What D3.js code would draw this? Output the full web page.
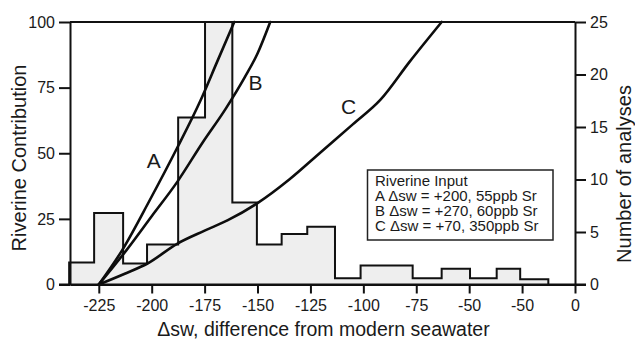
<!DOCTYPE html>
<html>
<head>
<meta charset="utf-8">
<script src="https://cdn.jsdelivr.net/npm/d3@7"></script>
<style>
  html, body { margin: 0; padding: 0; background: #fff; }
  svg { display: block; }
  text { font-family: "Liberation Sans", Arial, Helvetica, sans-serif; fill: #1a1a1a; }
</style>
</head>
<body>
<svg id="chart" width="635" height="339"></svg>
<script>
// ---------- data ----------
const xTickValues = [-225, -200, -175, -150, -125, -100, -75, -50, -25, 0];
const xTickLabels = ["-225", "-200", "-175", "-150", "-125", "-100", "-75", "-50", "-50", "0"];
const leftTicks = [0, 25, 50, 75, 100];
const rightTicks = [0, 5, 10, 15, 20, 25];

// histogram bin edges (Δsw) and counts (Number of analyses)
const binEdges = [-239, -227.2, -213.5, -202.2, -187.5, -174.8, -161.9, -150.3, -138.6, -126.5, -113.4, -101.3, -89, -76.7, -63.0, -49.6, -37.0, -25.9, -12.6];
const binCounts = [2.1, 6.8, 2.0, 3.8, 15.9, 25, 7.8, 3.8, 4.8, 5.5, 0.6, 1.8, 1.8, 0.6, 1.5, 0.6, 1.5, 0.5];

// model curves: riverine contribution vs Δsw
const curveA = [[-225, 0], [-214, 13], [-201, 32], [-188, 52], [-177, 70], [-169, 85], [-161, 100]];
const curveB = [[-225, 0], [-212, 13], [-200, 26], [-188, 39], [-176, 54], [-165, 67], [-156, 79], [-150, 88], [-144, 100]];
const curveC = [[-225, 0], [-213, 4], [-202, 8], [-188, 15.5], [-175, 20.5], [-164, 24.5], [-150, 31], [-135, 40], [-120, 50.5], [-105, 61], [-92, 70.3], [-78, 85], [-63, 100]];
const curveNames = ["A", "B", "C"];

const legendTitle = "Riverine Input";
const legendLines = ["A \u0394sw = +200, 55ppb Sr", "B \u0394sw = +270, 60ppb Sr", "C \u0394sw = +70, 350ppb Sr"];

const xTitle = "\u0394sw, difference from modern seawater";
const yLeftTitle = "Riverine Contribution";
const yRightTitle = "Number of analyses";

// ---------- layout ----------
const svg = d3.select("#chart");
const L = 70, R = 575, T = 22, B = 284.5;

const x = d3.scaleLinear().domain([-238.6, 0]).range([L, R]);
const yL = d3.scaleLinear().domain([0, 100]).range([B, T]);
const yR = d3.scaleLinear().domain([0, 25]).range([B, T]);

// histogram outline built from bins
const histPts = [[binEdges[0], 0]];
binCounts.forEach((c, i) => { histPts.push([binEdges[i], c]); histPts.push([binEdges[i + 1], c]); });
histPts.push([binEdges[binEdges.length - 1], 0]);

const histLine = d3.line().x(d => x(d[0])).y(d => yR(d[1]));
svg.append("path")
  .attr("d", histLine(histPts))
  .attr("fill", "#eeeeee")
  .attr("stroke", "#111")
  .attr("stroke-width", 2)
  .attr("stroke-linejoin", "miter");

// curves
const cLine = d3.line().x(d => x(d[0])).y(d => yL(d[1])).curve(d3.curveMonotoneX);
[curveA, curveB, curveC].forEach(c => {
  svg.append("path")
    .attr("d", cLine(c))
    .attr("fill", "none")
    .attr("stroke", "#0d0d0d")
    .attr("stroke-width", 2.6)
    .attr("stroke-linecap", "round");
});

// curve labels (annotation anchors in data units)
const labelAnchors = { A: [-199, 44.5], B: [-151, 74], C: [-107, 65] };
curveNames.forEach(n => {
  svg.append("text")
    .attr("x", x(labelAnchors[n][0]))
    .attr("y", yL(labelAnchors[n][1]))
    .attr("text-anchor", "middle")
    .attr("font-size", 21)
    .text(n);
});

// top border
svg.append("line").attr("x1", L).attr("x2", R).attr("y1", T).attr("y2", T)
  .attr("stroke", "#111").attr("stroke-width", 2);

// axes
const axStyle = g => {
  g.selectAll(".domain").attr("stroke", "#111").attr("stroke-width", 2);
  g.selectAll(".tick line").attr("stroke", "#111").attr("stroke-width", 2);
  g.selectAll(".tick text").attr("font-size", 16).attr("fill", "#1a1a1a")
    .style("font-family", '"Liberation Sans", Arial, sans-serif');
};

svg.append("g").attr("transform", `translate(0,${B})`)
  .call(d3.axisBottom(x).tickValues(xTickValues)
    .tickFormat((d, i) => xTickLabels[i]).tickSize(9).tickSizeOuter(0).tickPadding(6))
  .call(axStyle);

svg.append("g").attr("transform", `translate(${L},0)`)
  .call(d3.axisLeft(yL).tickValues(leftTicks).tickSize(11).tickSizeOuter(0).tickPadding(4))
  .call(axStyle);

svg.append("g").attr("transform", `translate(${R},0)`)
  .call(d3.axisRight(yR).tickValues(rightTicks).tickSize(11).tickSizeOuter(0).tickPadding(4))
  .call(axStyle);

// extend bottom axis line across
svg.append("line").attr("x1", L - 11).attr("x2", R + 11).attr("y1", B).attr("y2", B)
  .attr("stroke", "#111").attr("stroke-width", 2);

// axis titles
svg.append("text").attr("x", 323.5).attr("y", 335.5).attr("text-anchor", "middle")
  .attr("font-size", 19.5).text(xTitle);
svg.append("text").attr("transform", "translate(26,158) rotate(-90)").attr("text-anchor", "middle")
  .attr("font-size", 20).text(yLeftTitle);
svg.append("text").attr("transform", "translate(631,174) rotate(-90)").attr("text-anchor", "middle")
  .attr("font-size", 20).text(yRightTitle);

// legend
const lg = svg.append("g");
lg.append("rect").attr("x", 367.5).attr("y", 170).attr("width", 185.5).attr("height", 70)
  .attr("fill", "#fff").attr("stroke", "#222").attr("stroke-width", 1.5);
lg.append("text").attr("x", 375).attr("y", 186).attr("font-size", 15).text(legendTitle);
legendLines.forEach((t, i) => {
  lg.append("text").attr("x", 375).attr("y", 200.5 + i * 15).attr("font-size", 15).text(t);
});
</script>
</body>
</html>
